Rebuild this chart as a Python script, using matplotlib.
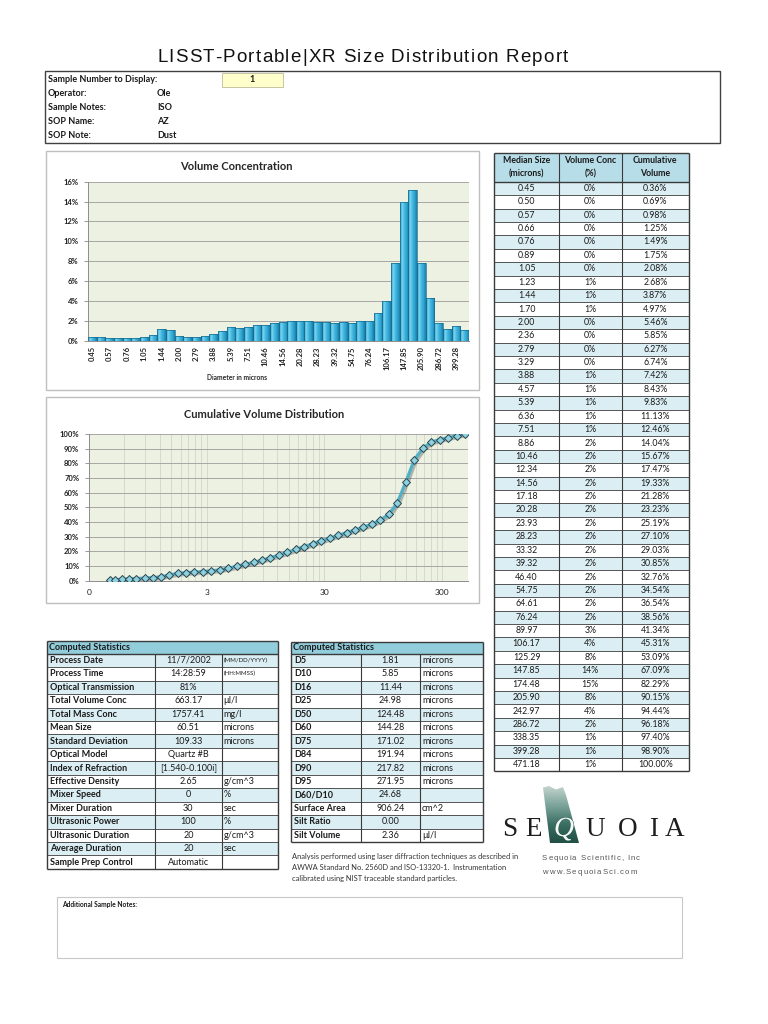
import numpy as np
import matplotlib
matplotlib.use("Agg")
import matplotlib.pyplot as plt
from matplotlib.patches import Rectangle, Polygon
from matplotlib.colors import LinearSegmentedColormap
from matplotlib.ticker import FixedLocator, NullFormatter
from matplotlib.font_manager import FontProperties, findfont, get_font
import matplotlib.patheffects as pe

# ---------------- data ----------------
title = "LISST-Portable|XR Size Distribution Report"

header_labels = ["Sample Number to Display:", "Operator:", "Sample Notes:", "SOP Name:", "SOP Note:"]
header_values = ["1", "Ole", "ISO", "AZ", "Dust"]

sizes = ["0.45", "0.50", "0.57", "0.66", "0.76", "0.89", "1.05", "1.23", "1.44", "1.70",
         "2.00", "2.36", "2.79", "3.29", "3.88", "4.57", "5.39", "6.36", "7.51", "8.86",
         "10.46", "12.34", "14.56", "17.18", "20.28", "23.93", "28.23", "33.32", "39.32", "46.40",
         "54.75", "64.61", "76.24", "89.97", "106.17", "125.29", "147.85", "174.48", "205.90", "242.97",
         "286.72", "338.35", "399.28", "471.18"]

vol_conc = [0.36, 0.33, 0.29, 0.27, 0.24, 0.26, 0.33, 0.60, 1.19, 1.10,
            0.49, 0.39, 0.42, 0.47, 0.68, 1.01, 1.40, 1.30, 1.33, 1.58,
            1.63, 1.80, 1.86, 1.95, 1.95, 1.96, 1.91, 1.93, 1.82, 1.91,
            1.78, 2.00, 2.02, 2.78, 3.97, 7.78, 14.00, 15.20, 7.86, 4.29,
            1.74, 1.22, 1.50, 1.10]

vol_conc_labels = ["0%", "0%", "0%", "0%", "0%", "0%", "0%", "1%", "1%", "1%",
                   "0%", "0%", "0%", "0%", "1%", "1%", "1%", "1%", "1%", "2%",
                   "2%", "2%", "2%", "2%", "2%", "2%", "2%", "2%", "2%", "2%",
                   "2%", "2%", "2%", "3%", "4%", "8%", "14%", "15%", "8%", "4%",
                   "2%", "1%", "1%", "1%"]

cumulative = [0.36, 0.69, 0.98, 1.25, 1.49, 1.75, 2.08, 2.68, 3.87, 4.97,
              5.46, 5.85, 6.27, 6.74, 7.42, 8.43, 9.83, 11.13, 12.46, 14.04,
              15.67, 17.47, 19.33, 21.28, 23.23, 25.19, 27.10, 29.03, 30.85, 32.76,
              34.54, 36.54, 38.56, 41.34, 45.31, 53.09, 67.09, 82.29, 90.15, 94.44,
              96.18, 97.40, 98.90, 100.00]

bar_yticks = [0, 2, 4, 6, 8, 10, 12, 14, 16]
cum_yticks = [0, 10, 20, 30, 40, 50, 60, 70, 80, 90, 100]
cum_xticks = [0.3, 3, 30, 300]
cum_xtick_labels = ["0", "3", "30", "300"]

stats1_labels = ["Process Date", "Process Time", "Optical Transmission", "Total Volume Conc",
                 "Total Mass Conc", "Mean Size", "Standard Deviation", "Optical Model",
                 "Index of Refraction", "Effective Density", "Mixer Speed", "Mixer Duration",
                 "Ultrasonic Power", "Ultrasonic Duration", "Average Duration", "Sample Prep Control"]
stats1_values = ["11/7/2002", "14:28:59", "81%", "663.17", "1757.41", "60.51", "109.33",
                 "Quartz #B", "[1.540-0.100i]", "2.65", "0", "30", "100", "20", "20", "Automatic"]
stats1_units = ["(MM/DD/YYYY)", "(HH:MMSS)", "", "µl/l", "mg/l", "microns", "microns", "", "",
                "g/cm^3", "%", "sec", "%", "g/cm^3", "sec", ""]

stats2_labels = ["D5", "D10", "D16", "D25", "D50", "D60", "D75", "D84", "D90", "D95",
                 "D60/D10", "Surface Area", "Silt Ratio", "Silt Volume"]
stats2_values = ["1.81", "5.85", "11.44", "24.98", "124.48", "144.28", "171.02", "191.94",
                 "217.82", "271.95", "24.68", "906.24", "0.00", "2.36"]
stats2_units = ["microns"] * 10 + ["", "cm^2", "", "µl/l"]

analysis_lines = ["Analysis performed using laser diffraction techniques as described in",
                  "AWWA Standard No. 2560D and ISO-13320-1.  Instrumentation",
                  "calibrated using NIST traceable standard particles."]
company_lines = ["Sequoia Scientific, Inc", "www.SequoiaSci.com"]

# ---------------- style ----------------
W, H = 768, 1024
SANS = ['Lato', 'DejaVu Sans']
ARIAL = ['Liberation Sans', 'DejaVu Sans']
SERIF = ['Liberation Serif', 'DejaVu Serif']
plt.rcParams['font.family'] = SANS
HEAD_BLUE = '#B7DDE8'
TITLE_BLUE = '#92CDDC'
ROW_BLUE = '#DBEEF3'
LINE = '#3a3a3a'
PLOT_BG = '#EDF1E1'
TXT = '#1a1a1a'

fig = plt.figure(figsize=(W / 100, H / 100), dpi=100)
fig.patch.set_facecolor('white')

page = fig.add_axes([0, 0, 1, 1])
page.set_xlim(0, W)
page.set_ylim(H, 0)
page.axis('off')


def px_axes(x0, y0, x1, y1):
    return fig.add_axes([x0 / W, 1 - y1 / H, (x1 - x0) / W, (y1 - y0) / H])


def hline(x0, x1, y, lw=0.8, c=LINE):
    page.plot([x0, x1], [y, y], color=c, lw=lw, solid_capstyle='butt')


def vline(x, y0, y1, lw=0.8, c=LINE):
    page.plot([x, x], [y0, y1], color=c, lw=lw, solid_capstyle='butt')


def char_advances(s, fs, family, weight='normal', style='normal'):
    fp = FontProperties(family=family, weight=weight, size=fs, style=style)
    font = get_font(findfont(fp))
    font.set_size(fs, 100)
    return [font.load_char(ord(c)).linearHoriAdvance / 65536 for c in s]


def spaced_text(x_left, x_right, y, s, fs, family, color, weight='normal'):
    """Draw text letter-spaced so that it spans x_left..x_right (pixels)."""
    adv = char_advances(s, fs, family, weight)
    extra = ((x_right - x_left) - sum(adv)) / max(len(s) - 1, 1)
    x = x_left
    for c, a in zip(s, adv):
        if c != ' ':
            page.text(x + a / 2, y, c, ha='center', va='center', fontsize=fs,
                      family=family, color=color, weight=weight)
        x += a + extra


# ---------------- title & header ----------------
spaced_text(157, 568, 58, title, 13.5, ARIAL, '#111111')

page.add_patch(Rectangle((45, 71), 675, 72, fill=False, ec='#404040', lw=1.0))
page.add_patch(Rectangle((222, 72.5), 61, 14.5, fc='#FFFFCC', ec='#BDBD9A', lw=0.6))
for i, (lab, val) in enumerate(zip(header_labels, header_values)):
    y = 80 + i * 14
    page.text(48, y, lab, ha='left', va='center', fontsize=6.5, weight='bold', color=TXT)
    if i == 0:
        page.text(252, y, val, ha='center', va='center', fontsize=6.5, weight='bold', color=TXT)
    else:
        page.text(157, y, val, ha='left', va='center', fontsize=6.5, weight='bold', color=TXT)

# ---------------- chart panels ----------------
page.add_patch(Rectangle((46, 151), 433, 239, fill=False, ec='#BFBFBF', lw=1.0))
page.add_patch(Rectangle((46, 397), 433, 206, fill=False, ec='#BFBFBF', lw=1.0))
page.text(236, 166, "Volume Concentration", ha='center', va='center', fontsize=8,
          weight='bold', color='#262626')
page.text(264, 415, "Cumulative Volume Distribution", ha='center', va='center', fontsize=8,
          weight='bold', color='#262626')
page.text(237, 378, "Diameter in microns", ha='center', va='center', fontsize=4.8,
          weight='bold', color='#262626')

# --- bar chart ---
axb = px_axes(88, 181.7, 469, 340.7)
axb.set_facecolor(PLOT_BG)
xpos = np.arange(len(vol_conc))
bars = axb.bar(xpos, vol_conc, width=1.0, facecolor='none', edgecolor='#17698a', lw=0.5, zorder=3)
cmap = LinearSegmentedColormap.from_list('bar', ['#2496c4', '#7ad6f1', '#45b8e0', '#2ea4d0', '#1b7da8'])
grad = np.linspace(0, 1, 64).reshape(1, -1)
for p in bars:
    x0, y0, w, h = p.get_x(), p.get_y(), p.get_width(), p.get_height()
    im = axb.imshow(grad, extent=(x0, x0 + w, y0, y0 + h), cmap=cmap, aspect='auto',
                    zorder=2, interpolation='bilinear')
    im.set_clip_path(p)
axb.set_xlim(-0.5, len(vol_conc) - 0.5)
axb.set_ylim(0, 16)
axb.set_yticks(bar_yticks)
axb.set_yticklabels([f"{v}%" for v in bar_yticks], fontsize=5.5, weight='bold', color='#222')
axb.set_xticks(xpos[::2])
axb.set_xticklabels(sizes[::2], rotation=90, fontsize=5.5, weight='bold', color='#222')
axb.tick_params(axis='x', length=0, pad=4)
axb.tick_params(axis='y', length=3, width=0.6, color='#888', pad=4)
axb.grid(axis='y', color='#A6A6A6', lw=0.7, zorder=1)
axb.set_axisbelow(True)
for s in ['top', 'right']:
    axb.spines[s].set_visible(False)
for s in ['left', 'bottom']:
    axb.spines[s].set_color('#8c8c8c')
    axb.spines[s].set_linewidth(0.7)

# --- cumulative chart ---
axc = px_axes(89, 434, 468, 580.7)
axc.set_facecolor(PLOT_BG)
xs = [float(s) for s in sizes]
axc.set_xscale('log')
axc.plot(xs, cumulative, color='#52B0C5', lw=2.3, zorder=3,
         path_effects=[pe.SimpleLineShadow(offset=(1.2, -1.2), alpha=0.25), pe.Normal()])
axc.plot(xs, cumulative, ls='none', marker='D', ms=3.8, mfc='#8ED0DE', mec='#2a4650',
         mew=0.7, zorder=4)
axc.set_xlim(0.3, 500)
axc.set_ylim(0, 100)
axc.xaxis.set_major_locator(FixedLocator(cum_xticks))
axc.set_xticklabels(cum_xtick_labels, fontsize=6, color='#222')
minors = [m * 0.3 * 10 ** k for k in range(3) for m in range(2, 10)]
axc.xaxis.set_minor_locator(FixedLocator(minors))
axc.xaxis.set_minor_formatter(NullFormatter())
axc.set_yticks(cum_yticks)
axc.set_yticklabels([f"{v}%" for v in cum_yticks], fontsize=5.5, weight='bold', color='#222')
axc.tick_params(axis='x', which='both', length=0, pad=6)
axc.tick_params(axis='y', length=3, width=0.6, color='#888', pad=4)
axc.grid(axis='x', which='both', color='#CDD0C4', lw=0.5, zorder=1)
axc.grid(axis='y', which='major', color='#A6A6A6', lw=0.7, zorder=1)
axc.set_axisbelow(True)
for s in ['top', 'right']:
    axc.spines[s].set_visible(False)
for s in ['left', 'bottom']:
    axc.spines[s].set_color('#8c8c8c')
    axc.spines[s].set_linewidth(0.7)

# ---------------- right size table ----------------
cx = [494, 559, 621.5, 689]
hy0, hy1 = 153.3, 181.7
rh = 13.4
n = len(sizes)
bottom = hy1 + n * rh
TFS = 6.3
page.add_patch(Rectangle((cx[0], hy0), cx[3] - cx[0], hy1 - hy0, fc=HEAD_BLUE, ec='none'))
for i in range(n):
    y = hy1 + i * rh
    if i % 2 == 0:
        page.add_patch(Rectangle((cx[0], y), cx[3] - cx[0], rh, fc=ROW_BLUE, ec='none'))
    yc = y + rh / 2
    page.text((cx[0] + cx[1]) / 2, yc, sizes[i], ha='center', va='center', fontsize=TFS, color=TXT)
    page.text((cx[1] + cx[2]) / 2, yc, vol_conc_labels[i], ha='center', va='center', fontsize=TFS, color=TXT)
    page.text((cx[2] + cx[3]) / 2, yc, f"{cumulative[i]:.2f}%", ha='center', va='center',
              fontsize=TFS, color=TXT)
heads = [("Median Size", "(microns)"), ("Volume Conc", "(%)"), ("Cumulative", "Volume")]
for j, (a, b) in enumerate(heads):
    xc = (cx[j] + cx[j + 1]) / 2
    page.text(xc, 160.5, a, ha='center', va='center', fontsize=TFS, weight='bold', color=TXT)
    page.text(xc, 174, b, ha='center', va='center', fontsize=TFS, weight='bold', color=TXT)
for x in cx:
    vline(x, hy0, bottom, lw=1.0 if x in (cx[0], cx[3]) else 0.8)
hline(cx[0], cx[3], hy0, lw=1.0)
for i in range(n + 1):
    hline(cx[0], cx[3], hy1 + i * rh, lw=1.0 if i in (0, n) else 0.6)


# ---------------- stats tables ----------------
SFS = 6.5


def stats_table(cols, ytop, ytitle, rowh, labels, values, units, unit_small=()):
    nrow = len(labels)
    ybot = ytitle + nrow * rowh
    page.add_patch(Rectangle((cols[0], ytop), cols[3] - cols[0], ytitle - ytop, fc=TITLE_BLUE, ec='none'))
    page.text(cols[0] + 2, (ytop + ytitle) / 2, "Computed Statistics", ha='left', va='center',
              fontsize=SFS, weight='bold', color=TXT)
    for i in range(nrow):
        y = ytitle + i * rowh
        if i % 2 == 0:
            page.add_patch(Rectangle((cols[0], y), cols[3] - cols[0], rowh, fc=ROW_BLUE, ec='none'))
        yc = y + rowh / 2
        page.text(cols[0] + 3, yc, labels[i], ha='left', va='center', fontsize=SFS,
                  weight='bold', color=TXT)
        page.text((cols[1] + cols[2]) / 2, yc, values[i], ha='center', va='center',
                  fontsize=SFS, color=TXT)
        fs = 4.4 if i in unit_small else SFS
        page.text(cols[2] + 2, yc, units[i], ha='left', va='center', fontsize=fs, color=TXT)
    vline(cols[0], ytop, ybot, lw=1.0)
    vline(cols[3], ytop, ybot, lw=1.0)
    for x in cols[1:3]:
        vline(x, ytitle, ybot)
    hline(cols[0], cols[3], ytop, lw=1.0)
    for i in range(nrow + 1):
        hline(cols[0], cols[3], ytitle + i * rowh, lw=1.0 if i in (0, nrow) else 0.6)


stats_table([46.7, 155, 221.7, 278], 641.3, 653.7, 13.45, stats1_labels, stats1_values,
            stats1_units, unit_small=(0, 1))
stats_table([291, 361, 420, 483.3], 642, 653.7, 13.45, stats2_labels, stats2_values, stats2_units)

# ---------------- analysis text ----------------
for i, line in enumerate(analysis_lines):
    page.text(292, 856 + i * 11, line, ha='left', va='center', fontsize=5.4, color='#333333')

# ---------------- logo ----------------
logo = Polygon([(543, 787.5), (549, 786), (556, 789.5), (563, 787), (566, 795),
                (579, 843), (550, 843)], closed=True, fc='none', ec='none')
page.add_patch(logo)
lg = LinearSegmentedColormap.from_list('logo', ['#C9D9D3', '#7FA69C', '#3A6E62', '#1E4C42'])
gim = page.imshow(np.linspace(0, 1, 64).reshape(-1, 1), extent=(540, 582, 845, 784), cmap=lg,
                  aspect='auto', interpolation='bilinear', zorder=2)
gim.set_clip_path(logo)
page.set_xlim(0, W)
page.set_ylim(H, 0)
letters = ["S", "E", "Q", "U", "O", "I", "A"]
lx = [510, 534, 564, 595, 627.5, 653.5, 675]
for ch, x in zip(letters, lx):
    if ch == "Q":
        page.text(x, 836, ch, ha='center', va='baseline', fontsize=20, style='italic',
                  family=SERIF, color='#F4F8F6', zorder=3,
                  path_effects=[pe.withStroke(linewidth=0.6, foreground='#2a5a50')])
    else:
        page.text(x, 836, ch, ha='center', va='baseline', fontsize=19.5,
                  family=SERIF, color='#1e1e1e', zorder=3)
spaced_text(542, 640, 859, company_lines[0], 5.6, ARIAL, '#555555')
spaced_text(542, 637, 872, company_lines[1], 5.6, ARIAL, '#555555')

# ---------------- notes box ----------------
page.add_patch(Rectangle((57, 897), 625, 61, fill=False, ec='#C8C8C8', lw=0.8))
page.text(62, 905, "Additional Sample Notes:", ha='left', va='center', fontsize=4.8,
          weight='bold', color=TXT)

fig.savefig("out.png", dpi=100, facecolor='white')
